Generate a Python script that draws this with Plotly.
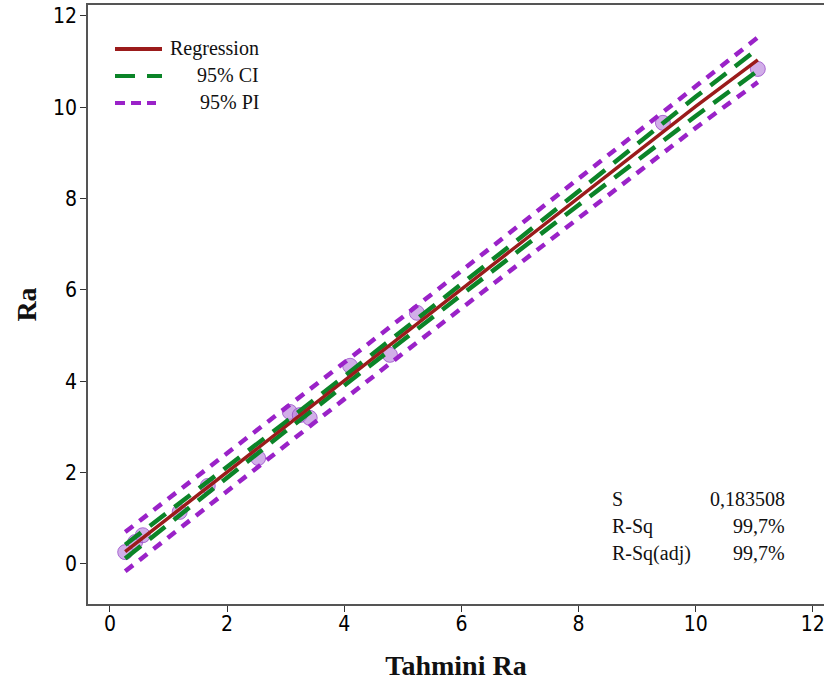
import plotly.graph_objects as go

# ---- data ----
obs_x = [0.26, 0.43, 0.56, 1.19, 1.67, 2.53, 3.07, 3.24, 3.41, 4.10, 4.78, 5.24, 9.44, 11.06]
obs_y = [0.26, 0.48, 0.63, 1.14, 1.71, 2.32, 3.33, 3.26, 3.20, 4.34, 4.58, 5.50, 9.66, 10.84]

fit_x = [0.26, 1, 2, 3, 4, 5, 6, 7, 8, 9, 10, 11.06]
fit_y = [0.27, 1.01, 2.01, 3.01, 4.01, 5.01, 6.01, 7.01, 8.01, 9.02, 10.02, 11.04]
ci_lo = [0.12, 0.88, 1.90, 2.91, 3.91, 4.91, 5.90, 6.88, 7.86, 8.84, 9.81, 10.80]
ci_hi = [0.42, 1.14, 2.12, 3.11, 4.11, 5.11, 6.12, 7.14, 8.16, 9.20, 10.23, 11.28]
pi_lo = [-0.16, 0.59, 1.60, 2.61, 3.61, 4.61, 5.60, 6.59, 7.58, 8.57, 9.55, 10.55]
pi_hi = [0.70, 1.43, 2.42, 3.41, 4.41, 5.41, 6.42, 7.43, 8.44, 9.47, 10.49, 11.53]

tick_vals = [0, 2, 4, 6, 8, 10, 12]
legend_names = ["Regression", "95% CI", "95% PI"]
stat_names = ["S", "R-Sq", "R-Sq(adj)"]
stat_values = ["0,183508", "99,7%", "99,7%"]

RED = "#9B1B1B"
GREEN = "#0B8428"
PURPLE = "#9A22C8"
SERIF = "Liberation Serif, Times New Roman, serif"
TICKFONT = "Liberation Sans Narrow, DejaVu Sans Condensed, Arial Narrow, sans-serif"

W, H = 824, 682
ML, MR, MT, MB = 88, 0, 5, 78
PW, PH = W - ML - MR, H - MT - MB


def px(p):
    return (p - ML) / PW


def py(p):
    return (H - MB - p) / PH


fig = go.Figure()

fig.add_trace(go.Scatter(
    x=obs_x, y=obs_y, mode="markers", showlegend=False,
    marker=dict(symbol="circle", size=15, color="rgba(185,130,220,0.65)",
                line=dict(color="rgba(150,70,200,0.75)", width=1)),
))
for lo_hi in (pi_lo, pi_hi):
    fig.add_trace(go.Scatter(x=fit_x, y=lo_hi, mode="lines", showlegend=False,
                             line=dict(color=PURPLE, width=4.5, dash="10px,8px")))
for lo_hi in (ci_lo, ci_hi):
    fig.add_trace(go.Scatter(x=fit_x, y=lo_hi, mode="lines", showlegend=False,
                             line=dict(color=GREEN, width=4.5, dash="20px,11px")))
fig.add_trace(go.Scatter(x=fit_x, y=fit_y, mode="lines", showlegend=False,
                         line=dict(color=RED, width=3.5)))

# ---- custom legend (right-aligned text as in reference) ----
legend_styles = [(RED, "solid", 162), (GREEN, "20px,12px", 162), (PURPLE, "10px,6px", 156)]
legend_rows = [49, 76, 103]
for name, (col, dash, xend), yrow in zip(legend_names, legend_styles, legend_rows):
    fig.add_shape(type="line", xref="paper", yref="paper",
                  x0=px(115), x1=px(xend), y0=py(yrow), y1=py(yrow),
                  line=dict(color=col, width=4, dash=dash))
    fig.add_annotation(xref="paper", yref="paper", x=px(261), y=py(yrow - 1),
                       text=name, showarrow=False, xanchor="right", yanchor="middle",
                       font=dict(family=SERIF, size=20, color="#111"))

# ---- statistics box ----
stat_rows = [499, 526, 553]
for name, val, yrow in zip(stat_names, stat_values, stat_rows):
    fig.add_annotation(xref="paper", yref="paper", x=px(610), y=py(yrow),
                       text=name, showarrow=False, xanchor="left", yanchor="middle",
                       font=dict(family=SERIF, size=20, color="#111"))
    fig.add_annotation(xref="paper", yref="paper", x=px(787), y=py(yrow),
                       text=val, showarrow=False, xanchor="right", yanchor="middle",
                       font=dict(family=SERIF, size=20, color="#111"))

axis_common = dict(
    tickvals=tick_vals, ticks="outside", ticklen=6, tickwidth=1, tickcolor="#333",
    showgrid=False, zeroline=False, showline=True, linecolor="#555", linewidth=1.5,
    tickfont=dict(family=TICKFONT, size=21, color="#000"),
)

fig.update_layout(
    width=W, height=H,
    margin=dict(l=ML, r=MR, t=MT, b=MB),
    paper_bgcolor="white", plot_bgcolor="white",
    showlegend=False,
    xaxis=dict(range=[-0.375, 12.19], mirror=True, ticklabelstandoff=-6,
               ticklabeloverflow="allow",
               title=dict(text="<b>Tahmini Ra</b>", standoff=20,
                          font=dict(family=SERIF, size=28, color="#111")),
               **axis_common),
    yaxis=dict(range=[-0.876, 12.24], ticklabelstandoff=-1,
               title=dict(text="<b>Ra</b>", standoff=8,
                          font=dict(family=SERIF, size=28, color="#111")),
               **axis_common),
)

fig.write_html("out.html")
